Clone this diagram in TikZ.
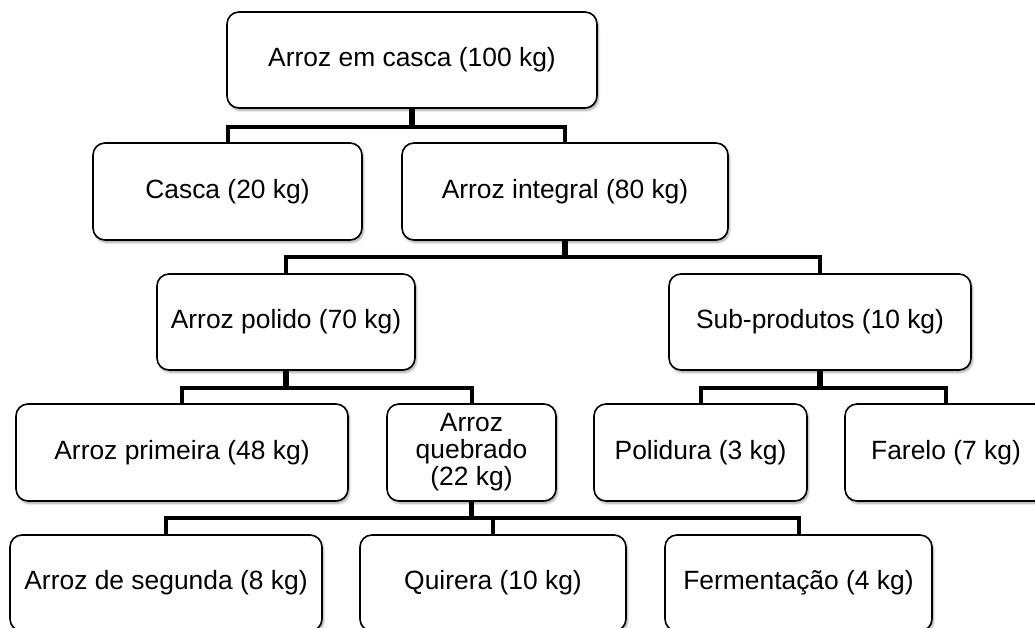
\documentclass[tikz,border=0pt]{standalone}
\usepackage{fontspec}
\setmainfont{Liberation Sans}
\usetikzlibrary{shadows.blur}
\tikzset{
  x=1pt, y=-1pt,
  box/.style={draw, line width=1.6pt, rounded corners=12pt, fill=white,
    align=center, inner sep=0pt, font=\fontsize{26.4}{27}\selectfont,
    blur shadow={shadow xshift=1.5pt, shadow yshift=-2.5pt, shadow blur steps=6, shadow opacity=35, shadow blur extra rounding=2pt}},
  conn/.style={line width=4pt, line cap=rect},
  stub/.style={line width=5.5pt},
}
\begin{document}
\begin{tikzpicture}
\useasboundingbox (0,0) rectangle (1035,627);
\clip (0,0) rectangle (1035,627);
% buses
\coordinate (b1) at (0,127);
\coordinate (b2) at (0,257);
\coordinate (b3) at (0,388);
\coordinate (b4) at (0,518);
% nodes
\node[box, minimum width=370pt, minimum height=96pt] (top) at (412,60) {Arroz em casca (100 kg)};
\node[box, minimum width=269pt, minimum height=97pt] (casca) at (227.5,191.5) {Casca (20 kg)};
\node[box, minimum width=326pt, minimum height=97pt] (integral) at (565,191.5) {Arroz integral (80 kg)};
\node[box, minimum width=258pt, minimum height=96pt] (polido) at (286,322) {Arroz polido (70 kg)};
\node[box, minimum width=302pt, minimum height=96pt] (sub) at (820,322) {Sub-produtos (10 kg)};
\node[box, minimum width=332pt, minimum height=97pt] (primeira) at (182,452.5) {Arroz primeira (48 kg)};
\node[box, minimum width=169pt, minimum height=97pt] (quebrado) at (471.5,452.5) {Arroz\\quebrado\\(22 kg)};
\node[box, minimum width=213pt, minimum height=97pt] (polidura) at (700.5,452.5) {Polidura (3 kg)};
\node[box, minimum width=202pt, minimum height=97pt] (farelo) at (946,452.5) {Farelo (7 kg)};
\node[box, minimum width=312pt, minimum height=96pt] (segunda) at (166,583) {Arroz de segunda (8 kg)};
\node[box, minimum width=266pt, minimum height=96pt] (quirera) at (493,583) {Quirera (10 kg)};
\node[box, minimum width=267pt, minimum height=96pt] (ferment) at (798.5,583) {Fermentação (4 kg)};
% connectors
\draw[stub] (top.south) -- (top.south |- b1);
\draw[conn] (casca.north) |- (top.south |- b1);
\draw[conn] (integral.north) |- (top.south |- b1);
\draw[stub] (integral.south) -- (integral.south |- b2);
\draw[conn] (polido.north) |- (integral.south |- b2);
\draw[conn] (sub.north) |- (integral.south |- b2);
\draw[stub] (polido.south) -- (polido.south |- b3);
\draw[conn] (primeira.north) |- (polido.south |- b3);
\draw[conn] (quebrado.north) |- (polido.south |- b3);
\draw[stub] (sub.south) -- (sub.south |- b3);
\draw[conn] (polidura.north) |- (sub.south |- b3);
\draw[conn] (farelo.north) |- (sub.south |- b3);
\draw[stub] (quebrado.south) -- (quebrado.south |- b4);
\draw[conn] (segunda.north) |- (quebrado.south |- b4);
\draw[conn] (quirera.north) |- (quebrado.south |- b4);
\draw[conn] (ferment.north) |- (quebrado.south |- b4);
\end{tikzpicture}
\end{document}
